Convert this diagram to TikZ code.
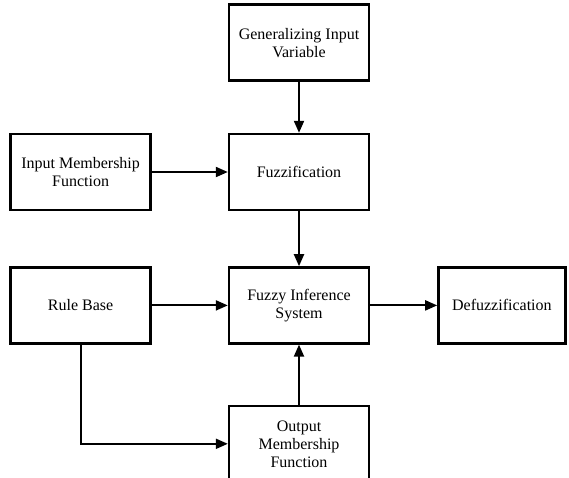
\documentclass[tikz,border=0pt]{standalone}
\usepackage{fontspec}
\setmainfont{Liberation Serif}
\usepackage{tikz}
\usetikzlibrary{arrows.meta,positioning}
\tikzset{
  flowarrow/.style={-{Triangle[length=12pt,width=10pt]}, line width=2pt, draw=black},
  blockbox/.style={draw=black, line width=2.4pt, fill=white, align=center,
    minimum width=140pt, minimum height=76pt, inner sep=3pt,
    font=\fontsize{16}{18}\selectfont}
}
\begin{document}
\begin{tikzpicture}[x=1pt, y=-1pt, node distance=55pt and 76pt]
        \useasboundingbox (0,0) rectangle (569,477);
        \clip (0,0) rectangle (569,477);

        \node[blockbox] (fuzz) at (299,172) {Fuzzification};
        \node[blockbox, above=51pt of fuzz] (gen) {Generalizing Input\\Variable};
        \node[blockbox, left=of fuzz] (imf) {Input Membership\\Function};
        \node[blockbox, below=of fuzz] (fis) {Fuzzy Inference\\System};
        \node[blockbox, left=of fis] (rb) {Rule Base};
        \node[blockbox, right=67pt of fis, minimum width=127pt] (defuzz) {Defuzzification};
        \node[blockbox, below=60pt of fis] (omf) {Output\\Membership\\Function};

        \foreach \a/\b in {gen/fuzz,imf/fuzz,fuzz/fis,rb/fis,fis/defuzz,omf/fis}
            \draw[flowarrow] (\a) -- (\b);
        \draw[flowarrow] (rb.south) |- (omf.west);
    \end{tikzpicture}
\end{document}
